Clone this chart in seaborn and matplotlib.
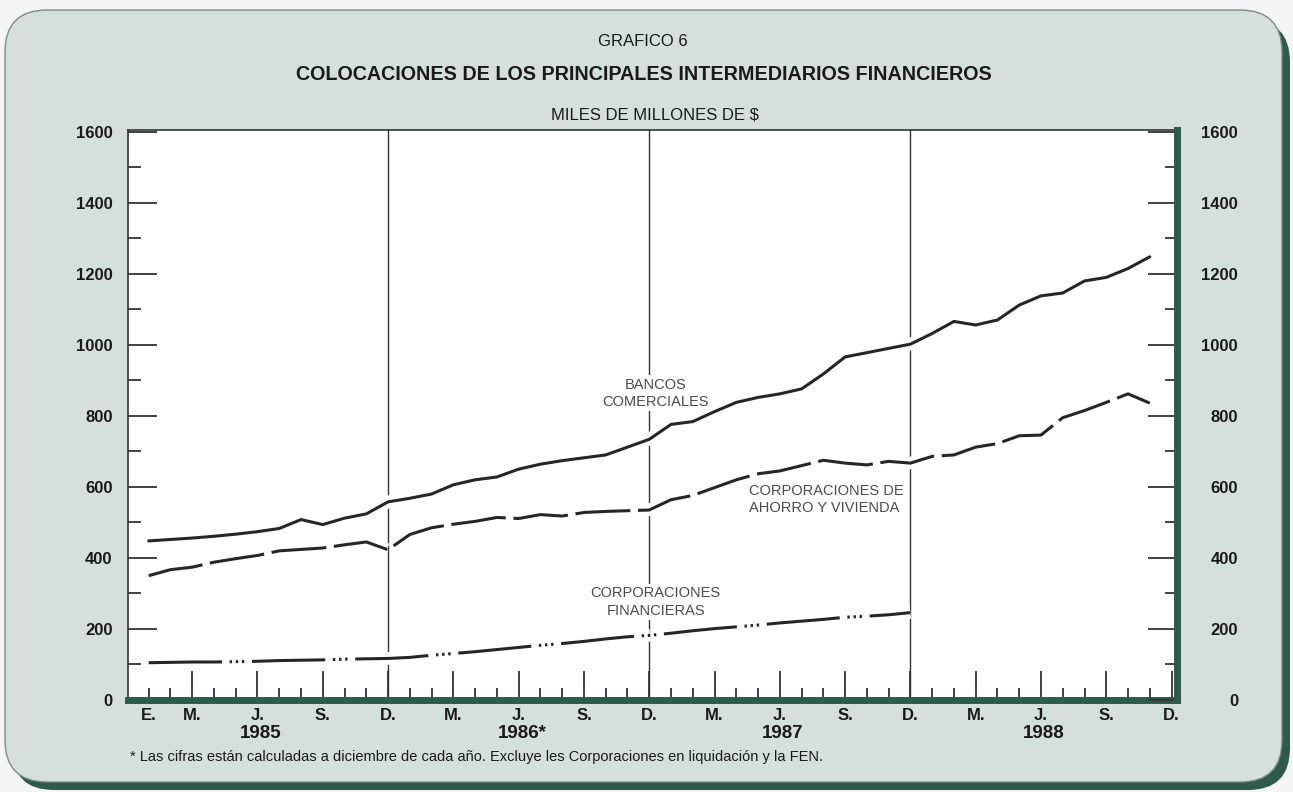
import matplotlib
matplotlib.use('Agg')
import matplotlib.pyplot as plt
import matplotlib.patheffects as pe
from matplotlib.patches import FancyBboxPatch
from matplotlib.transforms import IdentityTransform, blended_transform_factory
from matplotlib.ticker import FixedLocator, MultipleLocator, FuncFormatter, FixedFormatter
import pandas as pd
import seaborn as sns

# meses: 0 = enero 1985 ... 47 = diciembre 1988 (miles de millones de $)
bancos = [448, 452, 456, 461, 467, 474, 483, 508, 494, 512, 524, 558,
          568, 580, 606, 620, 628, 650, 664, 674, 682, 690, 712, 734,
          776, 784, 812, 838, 852, 862, 876, 918, 966, 978, 990, 1002,
          1032, 1066, 1056, 1070, 1112, 1138, 1146, 1180, 1190, 1215, 1248]
ahorro = [350, 367, 374, 388, 398, 407, 420, 424, 428, 437, 445, 423,
          466, 485, 495, 503, 514, 511, 522, 518, 528, 531, 533, 535,
          564, 576, 598, 620, 637, 645, 660, 675, 667, 662, 672, 667,
          686, 690, 712, 722, 744, 746, 795, 815, 838, 862, 836]
financieras = [105, 106, 107, 107, 108, 109, 111, 112, 113, 115, 116, 117,
               120, 126, 131, 136, 142, 148, 154, 159, 165, 172, 178, 182,
               188, 195, 201, 206, 211, 217, 222, 227, 233, 236, 240, 246]

meses_trim = [2, 5, 8, 11, 14, 17, 20, 23, 26, 29, 32, 35, 38, 41, 44, 47]
etiq_trim = ['M.', 'J.', 'S.', 'D.'] * 4
fin_anio = [11, 23, 35]
anios = ['1985', '1986*', '1987', '1988']
mes_anio = [5, 17, 29, 41]

df = pd.concat([
    pd.DataFrame({'mes': range(len(bancos)), 'valor': bancos, 'serie': 'bancos'}),
    pd.DataFrame({'mes': range(len(ahorro)), 'valor': ahorro, 'serie': 'ahorro'}),
    pd.DataFrame({'mes': range(len(financieras)), 'valor': financieras, 'serie': 'financieras'}),
])

sns.set_theme(style='white')
plt.rcParams['font.family'] = ['Liberation Sans', 'DejaVu Sans']

verde = '#2e5a4c'
fondo = '#d5e0db'
tinta = '#262626'

fig = plt.figure(figsize=(12.93, 7.92), dpi=100)
fig.patch.set_facecolor('#f4f6f5')

# panel redondeado con sombra
sombra = FancyBboxPatch((12, 2), 1278, 770, boxstyle='round,pad=0,rounding_size=42',
                        transform=IdentityTransform(), facecolor=verde, edgecolor='none', zorder=-2)
panel = FancyBboxPatch((5, 10), 1277, 772, boxstyle='round,pad=0,rounding_size=42',
                       transform=IdentityTransform(), facecolor=fondo, edgecolor='#7d8c86',
                       linewidth=1, zorder=-1)
fig.add_artist(sombra)
fig.add_artist(panel)

ax = fig.add_axes([128 / 1293, 1 - 700 / 792, 1049 / 1293, 570 / 792])
ax.set_facecolor('white')

sns.lineplot(data=df, x='mes', y='valor', style='serie',
             dashes={'bancos': '', 'ahorro': (18, 2.5),
                     'financieras': (24, 2.5, 0.8, 1.2, 0.8, 1.2, 0.8, 2.5)},
             color=tinta, linewidth=2.2, estimator=None, legend=False, ax=ax, zorder=3,
             path_effects=[pe.withStroke(linewidth=9, foreground='white')])

for m in fin_anio:
    ax.axvline(m, color='#333333', lw=1.0, zorder=1)

ax.set_xlim(-0.95, 47.25)
ax.set_ylim(0, 1605)
ax.set_xlabel('')
ax.set_ylabel('')

# ejes
ax.xaxis.set_major_locator(FixedLocator(meses_trim))
ax.xaxis.set_major_formatter(FixedFormatter(etiq_trim))
ax.xaxis.set_minor_locator(MultipleLocator(1))
ax.xaxis.set_minor_formatter(FuncFormatter(lambda v, p: 'E.' if v == 0 else ''))
ax.yaxis.set_major_locator(MultipleLocator(200))
ax.yaxis.set_minor_locator(MultipleLocator(100))
ax.tick_params(axis='both', which='both', direction='in', color='#333333', width=1.3,
               bottom=True, left=True, top=False, right=False)
ax.tick_params(axis='both', which='major', length=21)
ax.tick_params(axis='both', which='minor', length=9)
ax.tick_params(axis='x', which='both', pad=6, labelsize=12, labelcolor='#1a1a1a')
ax.tick_params(axis='y', which='major', pad=11, labelsize=12, labelcolor='#1a1a1a')
for lab in ax.get_xticklabels() + ax.get_xticklabels(minor=True) + ax.get_yticklabels():
    lab.set_fontweight('bold')

ax2 = ax.twinx()
ax2.set_ylim(ax.get_ylim())
ax2.yaxis.set_major_locator(MultipleLocator(200))
ax2.yaxis.set_minor_locator(MultipleLocator(100))
ax2.tick_params(axis='y', which='both', direction='in', color='#333333', width=1.3,
                right=True, left=False)
ax2.tick_params(axis='y', which='major', length=21, pad=44, labelsize=12, labelcolor='#1a1a1a')
ax2.tick_params(axis='y', which='minor', length=9)
for lab in ax2.get_yticklabels():
    lab.set_fontweight('bold')
    lab.set_horizontalalignment('right')

for a in (ax, ax2):
    for s in a.spines.values():
        s.set_visible(False)
ax.spines['left'].set_visible(True)
ax.spines['top'].set_visible(True)
ax.spines['bottom'].set_visible(True)
ax2.spines['right'].set_visible(True)
ax.spines['left'].set_color('#333333')
ax.spines['top'].set_color('#333333')
ax.spines['left'].set_linewidth(1.2)
ax.spines['top'].set_linewidth(1.2)
ax.spines['bottom'].set_color(verde)
ax.spines['bottom'].set_linewidth(5)
ax2.spines['right'].set_color(verde)
ax2.spines['right'].set_linewidth(5)

# años bajo los meses
trans = blended_transform_factory(ax.transData, ax.transAxes)
for m, a in zip(mes_anio, anios):
    ax.text(m + 0.15, -0.058, a, transform=trans, ha='center', va='center',
            fontsize=13.5, fontweight='bold', color='#1a1a1a')

# rótulos de las series
rot = dict(fontsize=10.5, color='#4a4a4a', linespacing=1.3, zorder=4,
           bbox=dict(facecolor='white', edgecolor='none', pad=1.5))
ax.text(23.3, 864, 'BANCOS\nCOMERCIALES', ha='center', va='center', **rot)
ax.text(27.6, 565, 'CORPORACIONES DE\nAHORRO Y VIVIENDA', ha='left', va='center', **rot)
ax.text(23.3, 276, 'CORPORACIONES\nFINANCIERAS', ha='center', va='center', **rot)

# títulos
fig.text(643 / 1293, 1 - 42 / 792, 'GRAFICO 6', ha='center', va='center',
         fontsize=12, color='#1a1a1a')
fig.text(644 / 1293, 1 - 75 / 792, 'COLOCACIONES DE LOS PRINCIPALES INTERMEDIARIOS FINANCIEROS',
         ha='center', va='center', fontsize=14.2, fontweight='bold', color='#1a1a1a')
fig.text(655 / 1293, 1 - 115 / 792, 'MILES DE MILLONES DE $', ha='center', va='center',
         fontsize=12, color='#1a1a1a')
fig.text(130 / 1293, 1 - 757 / 792,
         '* Las cifras están calculadas a diciembre de cada año. Excluye les Corporaciones en liquidación y la FEN.',
         ha='left', va='center', fontsize=10.5, color='#1a1a1a')

fig.savefig('out.png', dpi=100, facecolor=fig.get_facecolor())
